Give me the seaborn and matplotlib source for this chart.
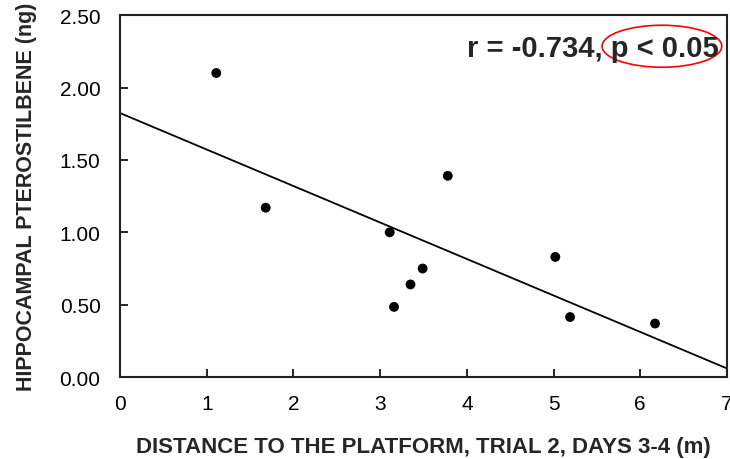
import matplotlib
matplotlib.use("Agg")
import matplotlib.pyplot as plt
from matplotlib.patches import Ellipse
import seaborn as sns
import pandas as pd

# -----------------------------
# Data
# -----------------------------
distance_m = [1.11, 1.68, 3.11, 3.16, 3.35, 3.49, 3.78, 5.02, 5.19, 6.17]
pterostilbene_ng = [2.10, 1.17, 1.00, 0.485, 0.64, 0.75, 1.39, 0.83, 0.415, 0.37]
x_ticks = [0, 1, 2, 3, 4, 5, 6, 7]
y_ticks = [0.0, 0.5, 1.0, 1.5, 2.0, 2.5]
stat_text = "r = -0.734, p < 0.05"

df = pd.DataFrame({"distance": distance_m, "pterostilbene": pterostilbene_ng})

sns.set_style("ticks")
plt.rcParams["font.family"] = ["Liberation Sans", "DejaVu Sans"]

fig = plt.figure(figsize=(7.3, 4.6), dpi=100)
ax = fig.add_axes([0.1644, 0.178, 0.8315, 0.787])

# limits first so the fitted line spans the whole axis
ax.set_xlim(0, 7)
ax.set_ylim(0, 2.5)

sns.regplot(
    data=df, x="distance", y="pterostilbene", ax=ax,
    ci=None, truncate=False,
    scatter_kws={"s": 50, "color": "black", "alpha": 1, "edgecolor": "none", "zorder": 3},
    line_kws={"color": "black", "linewidth": 1.3},
)

ax.set_xlim(0, 7)
ax.set_ylim(0, 2.5)
ax.set_xticks(x_ticks)
ax.set_xticklabels([str(t) for t in x_ticks])
ax.set_yticks(y_ticks)
ax.set_yticklabels([f"{t:.2f}" for t in y_ticks])
ax.tick_params(direction="in", length=6, width=1.2, labelsize=15, colors="black")
ax.tick_params(axis="x", pad=12)
ax.tick_params(axis="y", pad=14)

for side in ["top", "right", "left", "bottom"]:
    ax.spines[side].set_visible(True)
    ax.spines[side].set_linewidth(1.5)
    ax.spines[side].set_color("#222222")

ax.set_xlabel("DISTANCE TO THE PLATFORM, TRIAL 2, DAYS 3-4 (m)",
              fontsize=16, fontweight="bold", labelpad=17)
ax.set_ylabel("HIPPOCAMPAL PTEROSTILBENE (ng)",
              fontsize=15.5, fontweight="bold", labelpad=16)

ax.text(0.987, 0.91, stat_text, transform=ax.transAxes, ha="right", va="center",
        fontsize=21, fontweight="bold")

# red circle around the p-value
ell = Ellipse((6.25, 2.285), 1.38, 0.29, fill=False, edgecolor="red", linewidth=1.2)
ax.add_patch(ell)

fig.savefig("out.png", dpi=100)
